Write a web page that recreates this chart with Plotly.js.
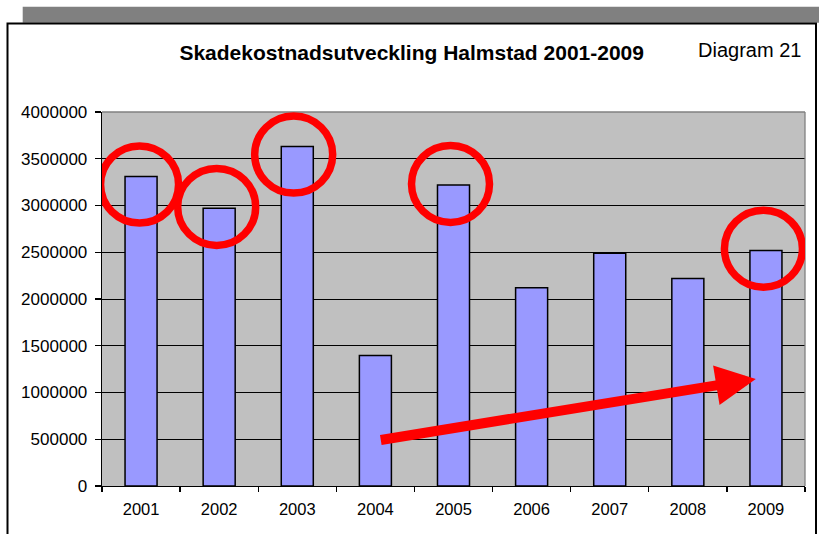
<!DOCTYPE html>
<html>
<head>
<meta charset="utf-8">
<script src="https://cdn.plot.ly/plotly-3.0.1.min.js"></script>
<style>
  html, body { margin: 0; padding: 0; background: #ffffff; }
  #chart { width: 819px; height: 534px; }
</style>
</head>
<body>
<div id="chart"></div>
<script>
// ---- data ----
const years = ['2001', '2002', '2003', '2004', '2005', '2006', '2007', '2008', '2009'];
const costs = [3310000, 2970000, 3630000, 1395000, 3220000, 2120000, 2490000, 2220000, 2520000];
const circledYears = ['2001', '2002', '2003', '2005', '2009'];
const yTickValues = [0, 500000, 1000000, 1500000, 2000000, 2500000, 3000000, 3500000, 4000000];
const chartTitle = 'Skadekostnadsutveckling Halmstad 2001-2009';
const diagramLabel = 'Diagram 21';
// trend arrow drawn over the bars (category index, value)
const trendArrowFrom = [3.05, 490000];
const trendArrowTo = [7.87, 1145000];

// ---- layout geometry ----
const W = 819, H = 534;
const M = { l: 102, r: 14, t: 112, b: 48 };
const PW = W - M.l - M.r, PH = H - M.t - M.b;
const px2x = p => (p - M.l) / PW;          // pixel -> paper x
const px2y = p => (H - M.b - p) / PH;      // pixel -> paper y

const FONT = 'Liberation Sans, Arial, sans-serif';

const shapes = [];
// grey band at the very top
shapes.push({ type: 'rect', xref: 'paper', yref: 'paper', layer: 'below',
  x0: px2x(22.7), x1: px2x(830), y0: px2y(22.7), y1: px2y(6.7),
  fillcolor: '#808080', line: { width: 0 } });
// outer black frame
shapes.push({ type: 'rect', xref: 'paper', yref: 'paper', layer: 'below',
  x0: px2x(7.5), x1: px2x(816), y0: px2y(560), y1: px2y(23.5),
  fillcolor: 'rgba(0,0,0,0)', line: { color: '#000000', width: 2 } });
// grey top & right edges of plot area
shapes.push({ type: 'line', xref: 'paper', yref: 'paper', layer: 'above',
  x0: 0, x1: 1, y0: 1, y1: 1, line: { color: '#808080', width: 1.3 } });
shapes.push({ type: 'line', xref: 'paper', yref: 'paper', layer: 'above',
  x0: 1, x1: 1, y0: 0, y1: 1, line: { color: '#808080', width: 1.3 } });

// red circles around chosen bar tops
const circleNudge = { '2001': [-1.5, -8], '2002': [-2.5, 1.4], '2003': [-3.6, -8], '2005': [-3, 1], '2009': [-2.5, 1.7] };
circledYears.forEach(yr => {
  const i = years.indexOf(yr);
  const n = circleNudge[yr] || [0, 0];
  const rx = 39, ry = 38.5;
  shapes.push({ type: 'circle', xref: 'x', yref: 'y', layer: 'above',
    xsizemode: 'pixel', ysizemode: 'pixel', xanchor: i, yanchor: costs[i],
    x0: n[0] - rx, x1: n[0] + rx, y0: n[1] - ry, y1: n[1] + ry,
    fillcolor: 'rgba(0,0,0,0)', line: { color: '#ff0000', width: 7.5 } });
});

const trace = {
  type: 'bar',
  x: years,
  y: costs,
  marker: { color: '#9999ff', line: { color: '#000000', width: 1.5 } },
  hoverinfo: 'skip'
};

const layout = {
  width: W, height: H,
  margin: M,
  paper_bgcolor: '#ffffff',
  plot_bgcolor: '#c0c0c0',
  bargap: 0.59,
  showlegend: false,
  font: { family: FONT, color: '#000000' },
  title: {
    text: '<b>' + chartTitle + '</b>',
    font: { family: FONT, size: 21, color: '#000000' },
    xref: 'container', yref: 'container',
    x: 411.7 / W, xanchor: 'center',
    y: 1 - 53 / H, yanchor: 'middle'
  },
  xaxis: {
    type: 'category',
    range: [-0.5, years.length - 0.5], autorange: false,
    showline: true, linecolor: '#000000', linewidth: 1.3,
    ticks: 'outside', tickson: 'boundaries', ticklen: 5, tickcolor: '#000000', tickwidth: 1.3,
    tickfont: { family: FONT, size: 16.5, color: '#000000' },
    ticklabelstandoff: 8,
    showgrid: false, zeroline: false, fixedrange: true
  },
  yaxis: {
    range: [0, 4000000], autorange: false,
    tickvals: yTickValues,
    ticktext: yTickValues.map(v => String(v)),
    showline: true, linecolor: '#000000', linewidth: 1.3,
    ticks: 'outside', ticklen: 6, tickcolor: '#000000', tickwidth: 1.3,
    tickfont: { family: FONT, size: 17, color: '#000000' },
    ticklabelstandoff: 4,
    showgrid: true, gridcolor: '#000000', gridwidth: 1,
    zeroline: false, fixedrange: true
  },
  shapes: shapes,
  annotations: [
    {
      text: diagramLabel, xref: 'paper', yref: 'paper',
      x: px2x(803), xanchor: 'right', y: px2y(50), yanchor: 'middle',
      showarrow: false, font: { family: FONT, size: 20, color: '#000000' }
    },
    {
      text: '', xref: 'x', yref: 'y', axref: 'x', ayref: 'y',
      x: trendArrowTo[0], y: trendArrowTo[1],
      ax: trendArrowFrom[0], ay: trendArrowFrom[1],
      showarrow: true, arrowhead: 2, arrowsize: 0.8, arrowwidth: 10,
      arrowcolor: '#ff0000', standoff: 0, startstandoff: 0
    }
  ]
};

Plotly.newPlot('chart', [trace], layout, { displayModeBar: false, staticPlot: true });
</script>
</body>
</html>
